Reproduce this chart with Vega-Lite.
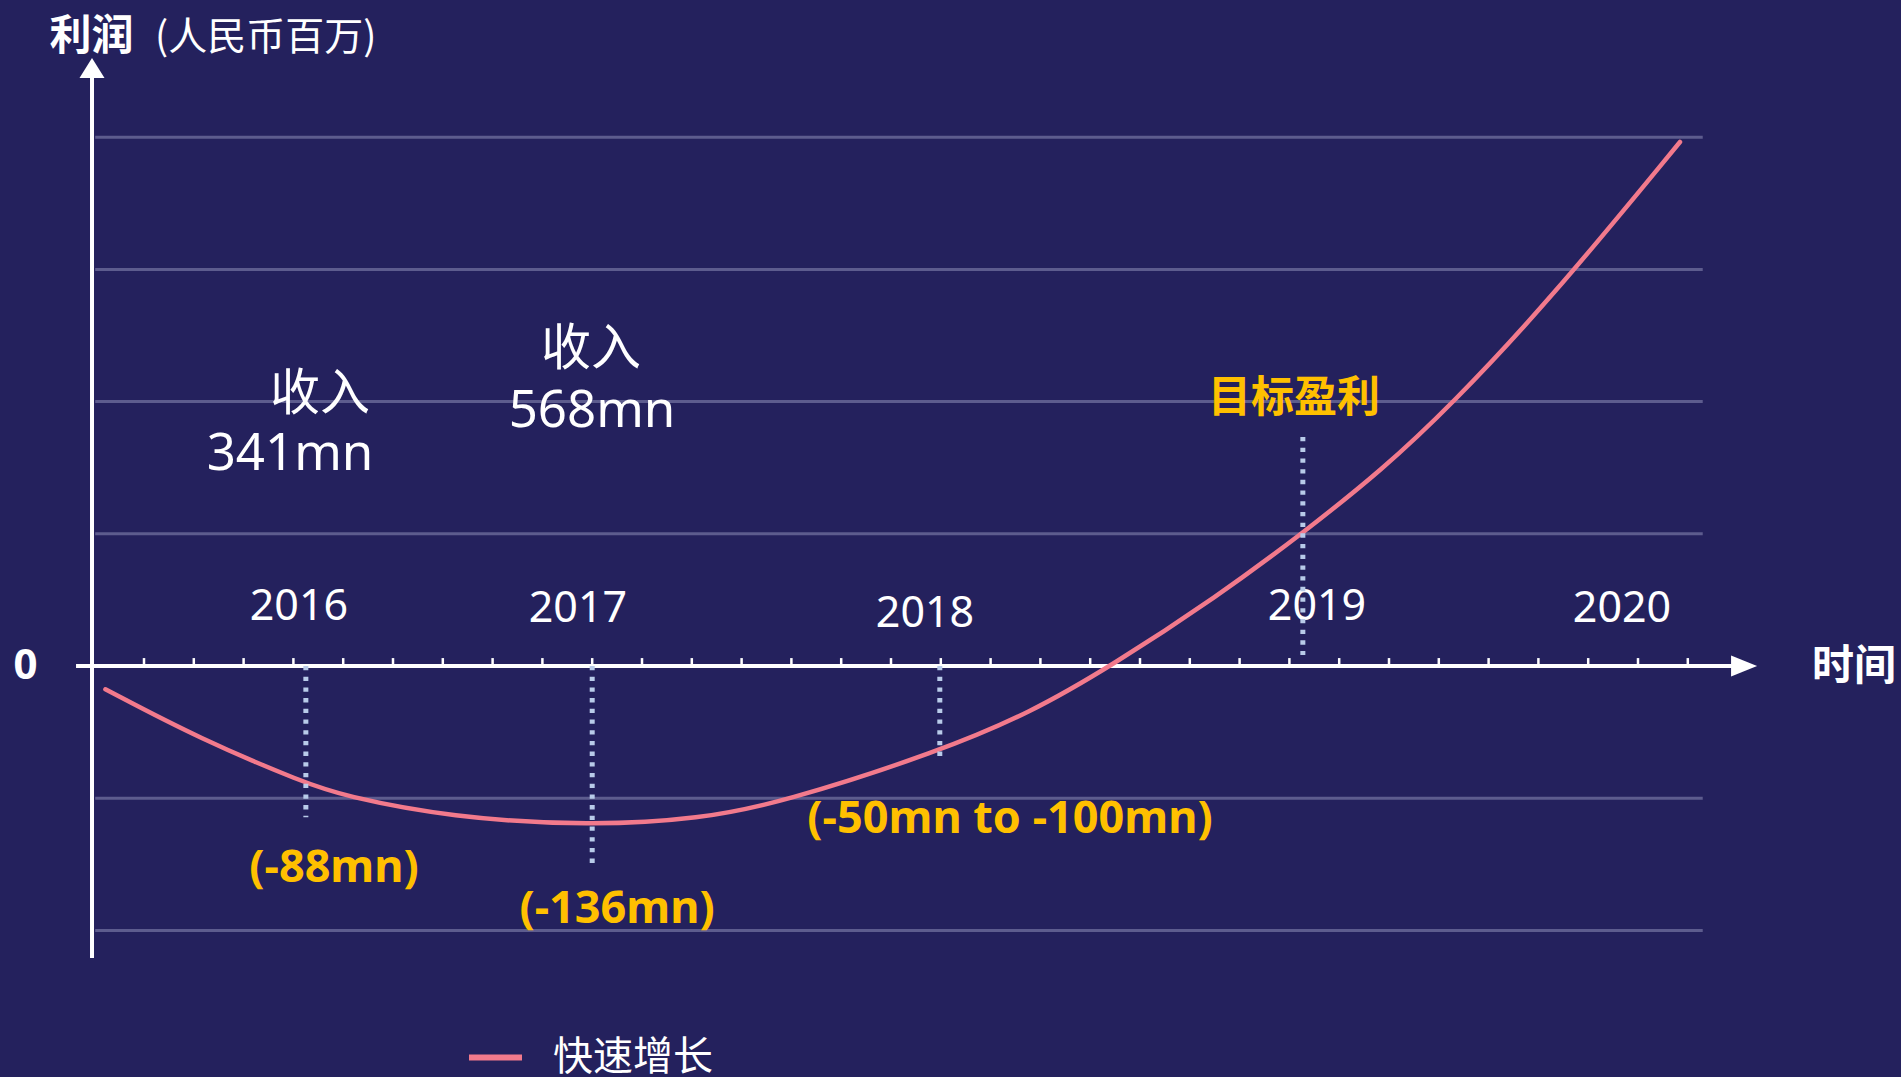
{
  "$schema": "https://vega.github.io/schema/vega-lite/v6.json",
  "width": 1901,
  "height": 1077,
  "padding": 0,
  "autosize": {"type": "none"},
  "background": "#24215d",
  "config": {"view": {"stroke": null}},
  "datasets": {
    "curve": [
      {"t": 0.225, "v": -17.6, "series": "快速增长"},
      {"t": 2.124, "v": -55.2, "series": "快速增长"},
      {"t": 4.233, "v": -88.5, "series": "快速增长"},
      {"t": 4.986, "v": -98.0, "series": "快速增长"},
      {"t": 7.145, "v": -114.5, "series": "快速增长"},
      {"t": 9.996, "v": -121.0, "series": "快速增长"},
      {"t": 12.165, "v": -115.6, "series": "快速增长"},
      {"t": 13.791, "v": -103.5, "series": "快速增长"},
      {"t": 16.984, "v": -64.5, "series": "快速增长"},
      {"t": 18.79, "v": -35.5, "series": "快速增长"},
      {"t": 20.422, "v": 0, "series": "快速增长"},
      {"t": 22.546, "v": 52.5, "series": "快速增长"},
      {"t": 24.273, "v": 100.6, "series": "快速增长"},
      {"t": 25.88, "v": 149.0, "series": "快速增长"},
      {"t": 27.225, "v": 196.5, "series": "快速增长"},
      {"t": 29.233, "v": 276.9, "series": "快速增长"},
      {"t": 31.843, "v": 396.4, "series": "快速增长"}
    ],
    "grid": [{"v": -200}, {"v": -100}, {"v": 100}, {"v": 200}, {"v": 300}, {"v": 400}],
    "ticks": [
      {"t": 1}, {"t": 2}, {"t": 3}, {"t": 4}, {"t": 5}, {"t": 6}, {"t": 7}, {"t": 8},
      {"t": 9}, {"t": 10}, {"t": 11}, {"t": 12}, {"t": 13}, {"t": 14}, {"t": 15}, {"t": 16},
      {"t": 17}, {"t": 18}, {"t": 19}, {"t": 20}, {"t": 21}, {"t": 22}, {"t": 23}, {"t": 24},
      {"t": 25}, {"t": 26}, {"t": 27}, {"t": 28}, {"t": 29}, {"t": 30}, {"t": 31}, {"t": 32}
    ],
    "guides": [
      {"year": "2016", "t": 4.25, "v": 0, "v2": -114.5},
      {"year": "2017", "t": 10.0, "v": 0, "v2": -151.3},
      {"year": "2018", "t": 16.98, "v": 0, "v2": -71.1},
      {"year": "2019", "t": 24.27, "v": 173.2, "v2": 8.3}
    ],
    "years": [
      {"t": 4.11, "v": 34.8, "label": "2016"},
      {"t": 9.714, "v": 33.3, "label": "2017"},
      {"t": 16.683, "v": 29.5, "label": "2018"},
      {"t": 24.554, "v": 34.8, "label": "2019"},
      {"t": 30.679, "v": 33.3, "label": "2020"}
    ],
    "revCn": [
      {"t": 4.534, "v": 205.0, "text": "收入"},
      {"t": 9.976, "v": 239.4, "text": "收入"}
    ],
    "revNum": [
      {"t": 3.932, "v": 148.3, "text": "341mn"},
      {"t": 9.996, "v": 180.8, "text": "568mn"}
    ],
    "loss": [
      {"t": 4.815, "v": -163.4, "text": "(-88mn)"},
      {"t": 10.498, "v": -194.4, "text": "(-136mn)"},
      {"t": 18.39, "v": -126.3, "text": "(-50mn to -100mn)"}
    ],
    "target": [{"t": 24.09, "v": 201.7, "text": "目标盈利"}],
    "axisBold": [
      {"t": -0.054, "v": 466.0, "text": "利润"},
      {"t": -1.38, "v": -9.83, "text": "0"},
      {"t": 35.337, "v": -10.6, "text": "时间"}
    ],
    "axisUnit": [{"t": 1.221, "v": 466.0, "text": "(人民币百万)"}]
  },
  "layer": [
    {
      "data": {"name": "grid"},
      "mark": {"type": "rule", "stroke": "#5d5c8e", "strokeWidth": 3},
      "encoding": {
        "x": {"datum": 0.02, "type": "quantitative", "scale": {"domain": [-1.8916, 36.2811], "nice": false, "zero": false}, "axis": null},
        "x2": {"datum": 32.3},
        "y": {"field": "v", "type": "quantitative", "scale": {"domain": [-310.9, 503.8], "nice": false, "zero": false}, "axis": null}
      }
    },
    {
      "data": {"values": [{}]},
      "mark": {"type": "rule", "stroke": "#ffffff", "strokeWidth": 4},
      "encoding": {
        "x": {"datum": -0.044, "type": "quantitative"},
        "y": {"datum": -220.9, "type": "quantitative"},
        "y2": {"datum": 445}
      }
    },
    {
      "data": {"values": [{}]},
      "mark": {"type": "rule", "stroke": "#ffffff", "strokeWidth": 4},
      "encoding": {
        "y": {"datum": 0, "type": "quantitative"},
        "x": {"datum": -0.365, "type": "quantitative"},
        "x2": {"datum": 32.9}
      }
    },
    {
      "data": {"name": "ticks"},
      "mark": {"type": "rule", "stroke": "#ffffff", "strokeWidth": 2.5},
      "encoding": {
        "x": {"field": "t", "type": "quantitative"},
        "y": {"datum": 0, "type": "quantitative"},
        "y2": {"datum": 6}
      }
    },
    {
      "data": {"values": [{}]},
      "mark": {"type": "point", "shape": "M0,-0.8L1,0.8L-1,0.8Z", "size": 625, "filled": true, "color": "#ffffff", "opacity": 1},
      "encoding": {
        "x": {"datum": -0.044, "type": "quantitative"},
        "y": {"datum": 452.3, "type": "quantitative"}
      }
    },
    {
      "data": {"values": [{}]},
      "mark": {"type": "point", "shape": "M1,0L-1,-0.8L-1,0.8Z", "size": 676, "filled": true, "color": "#ffffff", "opacity": 1},
      "encoding": {
        "x": {"datum": 33.13, "type": "quantitative"},
        "y": {"datum": 0, "type": "quantitative"}
      }
    },
    {
      "data": {"name": "curve"},
      "mark": {"type": "line", "interpolate": "basis", "strokeWidth": 4.5, "strokeCap": "round"},
      "encoding": {
        "x": {"field": "t", "type": "quantitative"},
        "y": {"field": "v", "type": "quantitative"},
        "color": {
          "field": "series",
          "type": "nominal",
          "scale": {"range": ["#f27a8c"]},
          "legend": {
            "title": null,
            "orient": "none",
            "legendX": 466,
            "legendY": 1028,
            "padding": 0,
            "symbolType": "stroke",
            "symbolSize": 2809,
            "symbolStrokeWidth": 6,
            "labelFontSize": 40,
            "labelFont": "Noto Sans CJK SC",
            "labelColor": "#ffffff",
            "labelOffset": 28
          }
        }
      }
    },
    {
      "data": {"name": "years"},
      "mark": {"type": "text", "font": "Noto Sans", "fontSize": 43, "color": "#ffffff", "align": "center", "baseline": "alphabetic"},
      "encoding": {
        "x": {"field": "t", "type": "quantitative"},
        "y": {"field": "v", "type": "quantitative"},
        "text": {"field": "label"}
      }
    },
    {
      "data": {"name": "revCn"},
      "mark": {"type": "text", "font": "Noto Sans CJK SC", "fontSize": 50, "color": "#ffffff", "align": "center", "baseline": "middle"},
      "encoding": {
        "x": {"field": "t", "type": "quantitative"},
        "y": {"field": "v", "type": "quantitative"},
        "text": {"field": "text"}
      }
    },
    {
      "data": {"name": "revNum"},
      "mark": {"type": "text", "font": "Noto Sans", "fontSize": 51, "color": "#ffffff", "align": "center", "baseline": "alphabetic"},
      "encoding": {
        "x": {"field": "t", "type": "quantitative"},
        "y": {"field": "v", "type": "quantitative"},
        "text": {"field": "text"}
      }
    },
    {
      "data": {"name": "loss"},
      "mark": {"type": "text", "font": "Noto Sans", "fontWeight": "bold", "fontSize": 45, "color": "#ffc000", "align": "center", "baseline": "alphabetic"},
      "encoding": {
        "x": {"field": "t", "type": "quantitative"},
        "y": {"field": "v", "type": "quantitative"},
        "text": {"field": "text"}
      }
    },
    {
      "data": {"name": "target"},
      "mark": {"type": "text", "font": "Noto Sans CJK SC", "fontWeight": "bold", "fontSize": 43, "color": "#ffc000", "align": "center", "baseline": "middle"},
      "encoding": {
        "x": {"field": "t", "type": "quantitative"},
        "y": {"field": "v", "type": "quantitative"},
        "text": {"field": "text"}
      }
    },
    {
      "data": {"name": "axisBold"},
      "mark": {"type": "text", "font": "Noto Sans, Noto Sans CJK SC", "fontWeight": "bold", "fontSize": 42, "color": "#ffffff", "align": "center", "baseline": "alphabetic"},
      "encoding": {
        "x": {"field": "t", "type": "quantitative"},
        "y": {"field": "v", "type": "quantitative"},
        "text": {"field": "text"}
      }
    },
    {
      "data": {"name": "axisUnit"},
      "mark": {"type": "text", "font": "Noto Sans CJK SC", "fontSize": 39, "color": "#ffffff", "align": "left", "baseline": "alphabetic"},
      "encoding": {
        "x": {"field": "t", "type": "quantitative"},
        "y": {"field": "v", "type": "quantitative"},
        "text": {"field": "text"}
      }
    },
    {
      "data": {"name": "guides"},
      "mark": {"type": "rule", "stroke": "#b8cbe9", "strokeWidth": 5, "strokeDash": [4.3, 6.4], "strokeCap": "butt"},
      "encoding": {
        "x": {"field": "t", "type": "quantitative"},
        "y": {"field": "v", "type": "quantitative"},
        "y2": {"field": "v2"}
      }
    }
  ]
}
